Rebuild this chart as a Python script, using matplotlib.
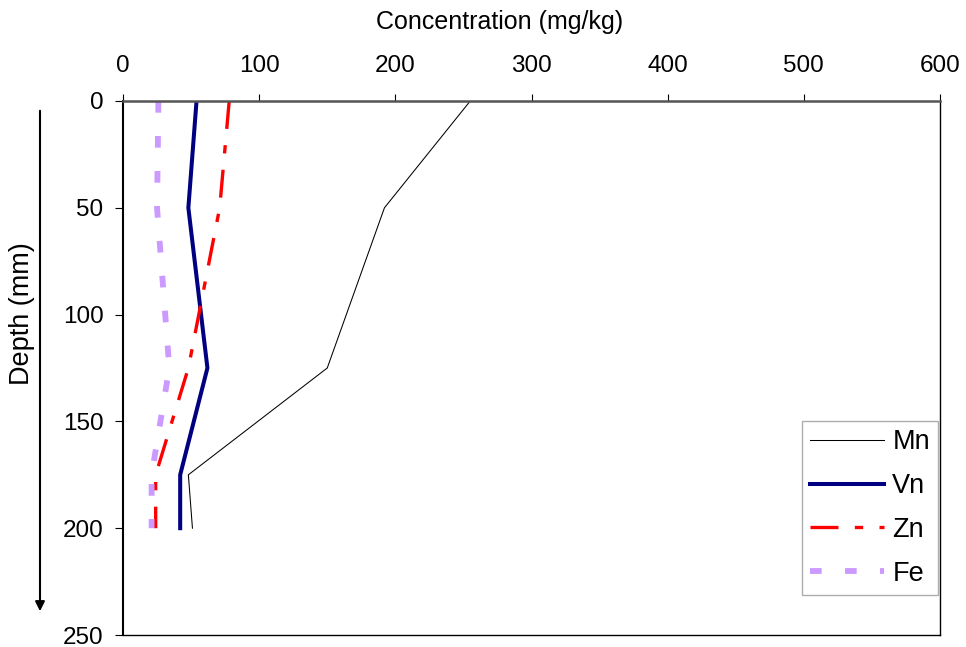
"""Depth profile of metal concentrations."""

import matplotlib
matplotlib.use("Agg")
import matplotlib.pyplot as plt

plt.rcParams["font.family"] = ["Liberation Sans", "DejaVu Sans"]

# Depth of each sample (mm)
depth = [0, 50, 125, 175, 200]

# Concentrations (mg/kg)
mn = [255, 192, 150, 48, 51]
vn = [54, 48, 62, 42, 42]
zn = [78, 71, 48, 24, 24]
fe = [26, 25, 34, 21, 21]

x_ticks = [0, 100, 200, 300, 400, 500, 600]
y_ticks = [0, 50, 100, 150, 200, 250]

fig = plt.figure(figsize=(9.66, 6.47), dpi=100)
ax = fig.add_axes([123 / 966, 1 - 635 / 647, (940 - 123) / 966, (635 - 101) / 647])

ax.plot(mn, depth, color="black", lw=0.75, label="Mn")
ax.plot(vn, depth, color="#000080", lw=2.9, label="Vn")
ax.plot(zn, depth, color="#FF0000", lw=2.4, linestyle=(0, (8.4, 4.9, 2.5, 4.9)), label="Zn")
ax.plot(fe, depth, color="#CC99FF", lw=4.2, linestyle=(0, (2.0, 4.0)), label="Fe")

# x axis on top, depth increasing downwards
ax.set_xlim(0, 600)
ax.set_ylim(250, 0)
ax.set_xticks(x_ticks)
ax.set_yticks(y_ticks)
ax.xaxis.tick_top()
ax.tick_params(axis="x", direction="out", length=5, pad=12, labelsize=17.5)
ax.tick_params(axis="y", direction="out", length=6, pad=8, labelsize=17.5)

ax.spines["top"].set_color("#555555")
ax.spines["top"].set_linewidth(1.8)
ax.spines["left"].set_linewidth(1.5)
ax.spines["right"].set_linewidth(1.0)
ax.spines["bottom"].set_linewidth(1.0)

fig.text(500 / 966, 1 - 22 / 647, "Concentration (mg/kg)", ha="center", va="center", fontsize=18)
fig.text(22 / 966, 1 - 314 / 647, "Depth (mm)", ha="center", va="center", rotation=90, fontsize=19.5)

# Downward arrow next to depth label
fig.patches.append(matplotlib.patches.FancyArrowPatch(
    (40 / 966, 1 - 108 / 647), (40 / 966, 1 - 614 / 647),
    transform=fig.transFigure, arrowstyle="-|>", mutation_scale=14, lw=1.5, color="black"))

leg = ax.legend(loc="lower right", bbox_to_anchor=(0.9976, 0.075), borderaxespad=0,
                fontsize=19.5, frameon=True, fancybox=False, edgecolor="#999999",
                handlelength=2.75, labelspacing=0.66, borderpad=0.3, handletextpad=0.3)
leg.get_frame().set_linewidth(1.0)

plt.savefig("out.png", dpi=100)
